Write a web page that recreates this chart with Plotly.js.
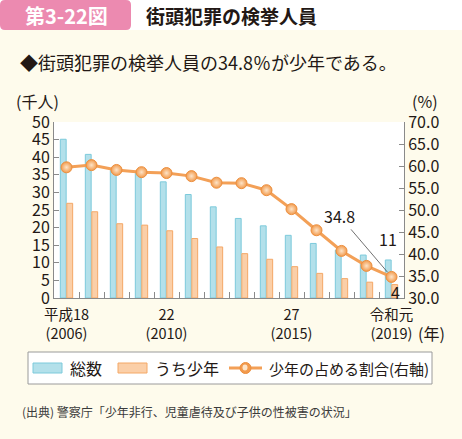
<!DOCTYPE html>
<html>
<head>
<meta charset="utf-8">
<script src="https://cdn.plot.ly/plotly-3.0.1.min.js"></script>
<style>
html,body{margin:0;padding:0;background:#fefbec;}
#chart{width:462px;height:439px;}
</style>
</head>
<body>
<div id="chart"></div>
<script>
// ---- data ----
const years = [2006, 2007, 2008, 2009, 2010, 2011, 2012, 2013, 2014, 2015, 2016, 2017, 2018, 2019];
const totals = [45.1, 40.8, 36.2, 35.4, 33.0, 29.4, 25.9, 22.6, 20.5, 17.8, 15.5, 13.6, 12.2, 10.8];
const youth = [26.9, 24.5, 21.1, 20.7, 19.1, 16.9, 14.5, 12.6, 11.0, 8.9, 7.0, 5.5, 4.5, 3.8];
const ratio = [59.7, 60.2, 59.1, 58.6, 58.4, 57.7, 56.2, 56.1, 54.5, 50.2, 45.4, 40.7, 37.3, 34.8];
const tickYears = [2006, 2010, 2015, 2019];
const tickLabels = ['平成18<br>(2006)', '22<br>(2010)', '27<br>(2015)', '令和元<br>(2019)'];
const seriesNames = ['総数', 'うち少年', '少年の占める割合(右軸)'];

// ---- layout helpers (pixel -> paper) ----
const W = 462, H = 439;
const M = {l: 54, r: 58, t: 122, b: 141};
const PW = W - M.l - M.r, PH = H - M.t - M.b;
const X = px => (px - M.l) / PW;
const Y = py => (H - M.b - py) / PH;
function roundRect(x0, y0, x1, y1, r) {
  const p = (a, b) => X(a) + ',' + Y(b);
  return 'M' + p(x0 + r, y0) + ' L' + p(x1 - r, y0) + ' Q' + p(x1, y0) + ' ' + p(x1, y0 + r) +
    ' L' + p(x1, y1 - r) + ' Q' + p(x1, y1) + ' ' + p(x1 - r, y1) +
    ' L' + p(x0 + r, y1) + ' Q' + p(x0, y1) + ' ' + p(x0, y1 - r) +
    ' L' + p(x0, y0 + r) + ' Q' + p(x0, y0) + ' ' + p(x0 + r, y0) + ' Z';
}
function pRect(x0, y0, x1, y1, style) {
  return Object.assign({type: 'rect', xref: 'paper', yref: 'paper',
    x0: X(x0), x1: X(x1), y0: Y(y1), y1: Y(y0)}, style);
}
function pText(x, y, text, size, anchor, color) {
  return {xref: 'paper', yref: 'paper', x: X(x), y: Y(y), xanchor: anchor || 'left', yanchor: 'middle',
    text: text, showarrow: false, font: {family: JP, size: size, color: color || INK}};
}

const JP = '"Noto Sans CJK JP", "Noto Sans", sans-serif';
const INK = '#231815';
const BLUE = '#b3e0ea', BLUE_EDGE = '#7ccadb';
const ORANGE = '#fbcfa8', ORANGE_EDGE = '#f4a867';
const LINE = '#f3a057', MARK = '#f29a4c', MARK_IN = '#fde4c8';
const boundaries = years.slice(0, -1).map(y => y + 0.5);

const traces = [
  {
    type: 'bar', name: seriesNames[0], x: years, y: totals,
    marker: {color: BLUE, line: {color: BLUE_EDGE, width: 1}},
    hoverinfo: 'skip'
  },
  {
    type: 'bar', name: seriesNames[1], x: years, y: youth,
    marker: {color: ORANGE, line: {color: ORANGE_EDGE, width: 1}},
    hoverinfo: 'skip'
  },
  {
    type: 'scatter', mode: 'lines+markers', name: seriesNames[2], x: years, y: ratio, yaxis: 'y2',
    line: {color: LINE, width: 3},
    marker: {size: 11, color: MARK, line: {color: '#ec8f3e', width: 1},
             gradient: {type: 'radial', color: MARK_IN}},
    hoverinfo: 'skip'
  }
];

const last = years.length - 1;

// custom legend (box, swatches, texts)
const LG = {x0: 28, x1: 432, y0: 352, y1: 384, cy: 368};
const legendShapes = [
  pRect(LG.x0, LG.y0, LG.x1, LG.y1, {fillcolor: '#ffffff', line: {color: '#9a9a9a', width: 1}}),
  pRect(33, 363, 62, 373, {fillcolor: BLUE, line: {color: BLUE_EDGE, width: 1}}),
  pRect(118, 363, 147, 373, {fillcolor: ORANGE, line: {color: ORANGE_EDGE, width: 1}}),
  {type: 'line', xref: 'paper', yref: 'paper', x0: X(229), x1: X(262), y0: Y(LG.cy), y1: Y(LG.cy),
   line: {color: LINE, width: 3}},
  {type: 'circle', xref: 'paper', yref: 'paper', x0: X(240), x1: X(251), y0: Y(LG.cy + 5.5), y1: Y(LG.cy - 5.5),
   fillcolor: MARK, line: {color: '#ec8f3e', width: 1}},
  {type: 'circle', xref: 'paper', yref: 'paper', x0: X(242.5), x1: X(247.5), y0: Y(LG.cy + 2.5), y1: Y(LG.cy - 3.5),
   fillcolor: MARK_IN, line: {width: 0}}
];
const legendTexts = [
  pText(68, LG.cy, seriesNames[0], 16),
  pText(153, LG.cy, seriesNames[1], 16),
  pText(267, LG.cy, seriesNames[2], 15)
];

const layout = {
  width: W, height: H,
  margin: M,
  paper_bgcolor: '#fefbec',
  plot_bgcolor: '#ffffff',
  font: {family: JP, color: INK, size: 16},
  showlegend: false,
  barmode: 'group',
  bargap: 0.48,
  bargroupgap: 0.1,
  xaxis: {
    range: [2005.5, 2019.5],
    tickmode: 'array', tickvals: tickYears, ticktext: tickLabels,
    ticks: '', showline: true, linecolor: '#8a8a8a', linewidth: 1,
    showgrid: false, zeroline: false,
    ticklabelstandoff: 4,
    tickfont: {family: JP, size: 14.5, color: INK},
    minor: {tickmode: 'array', tickvals: boundaries, ticks: 'inside', ticklen: 6,
            tickcolor: '#8a8a8a', tickwidth: 1, showgrid: false},
    fixedrange: true
  },
  yaxis: {
    range: [0, 50], dtick: 5, tick0: 0,
    ticks: 'inside', ticklen: 5, tickcolor: '#8a8a8a',
    showline: true, linecolor: '#8a8a8a', linewidth: 1,
    showgrid: false, zeroline: false,
    tickfont: {family: JP, size: 16, color: INK},
    fixedrange: true
  },
  yaxis2: {
    overlaying: 'y', side: 'right',
    range: [30, 70], dtick: 5, tick0: 30, tickformat: '.1f',
    ticks: 'inside', ticklen: 5, tickcolor: '#8a8a8a',
    showline: true, linecolor: '#8a8a8a', linewidth: 1,
    showgrid: false, zeroline: false,
    tickfont: {family: JP, size: 16, color: INK},
    fixedrange: true
  },
  shapes: [
    pRect(0, 0, 462, 30, {fillcolor: '#ffffff', line: {width: 0}, layer: 'below'}),
    {type: 'path', xref: 'paper', yref: 'paper', path: roundRect(0, 0, 131, 30, 5),
     fillcolor: '#ec8ab0', line: {width: 0}, layer: 'below'}
  ].concat(legendShapes),
  annotations: [
    pText(66, 15, '<b>第3-22図</b>', 20, 'center', '#ffffff'),
    pText(144, 15, '<b>街頭犯罪の検挙人員</b>', 19),
    pText(18, 62, '◆街頭犯罪の検挙人員の' + ratio[last].toFixed(1) + '％が少年である。', 18),
    pText(14, 101, '(千人)', 16),
    pText(410, 101, '(%)', 16),
    pText(416, 333, '(年)', 16),
    {xref: 'x', yref: 'y2', x: years[last], y: ratio[last],
     text: ratio[last].toFixed(1), showarrow: true, arrowhead: 0, arrowwidth: 0.7, arrowcolor: '#333333',
     ax: -52, ay: -61, standoff: 6, font: {family: JP, size: 16, color: INK}},
    {xref: 'x', yref: 'y', x: years[last], y: totals[last],
     text: String(Math.round(totals[last])), showarrow: false, xshift: -4, yshift: 21,
     font: {family: JP, size: 16, color: INK}},
    {xref: 'x', yref: 'y', x: years[last], y: youth[last],
     text: String(Math.round(youth[last])), showarrow: false, xshift: 4, yshift: -7,
     font: {family: JP, size: 16, color: INK}},
    pText(20, 411, '(出典) 警察庁「少年非行、児童虐待及び子供の性被害の状況」', 12, 'left', '#3a3a3a')
  ].concat(legendTexts)
};

Plotly.newPlot('chart', traces, layout, {displayModeBar: false, staticPlot: true});
</script>
</body>
</html>
